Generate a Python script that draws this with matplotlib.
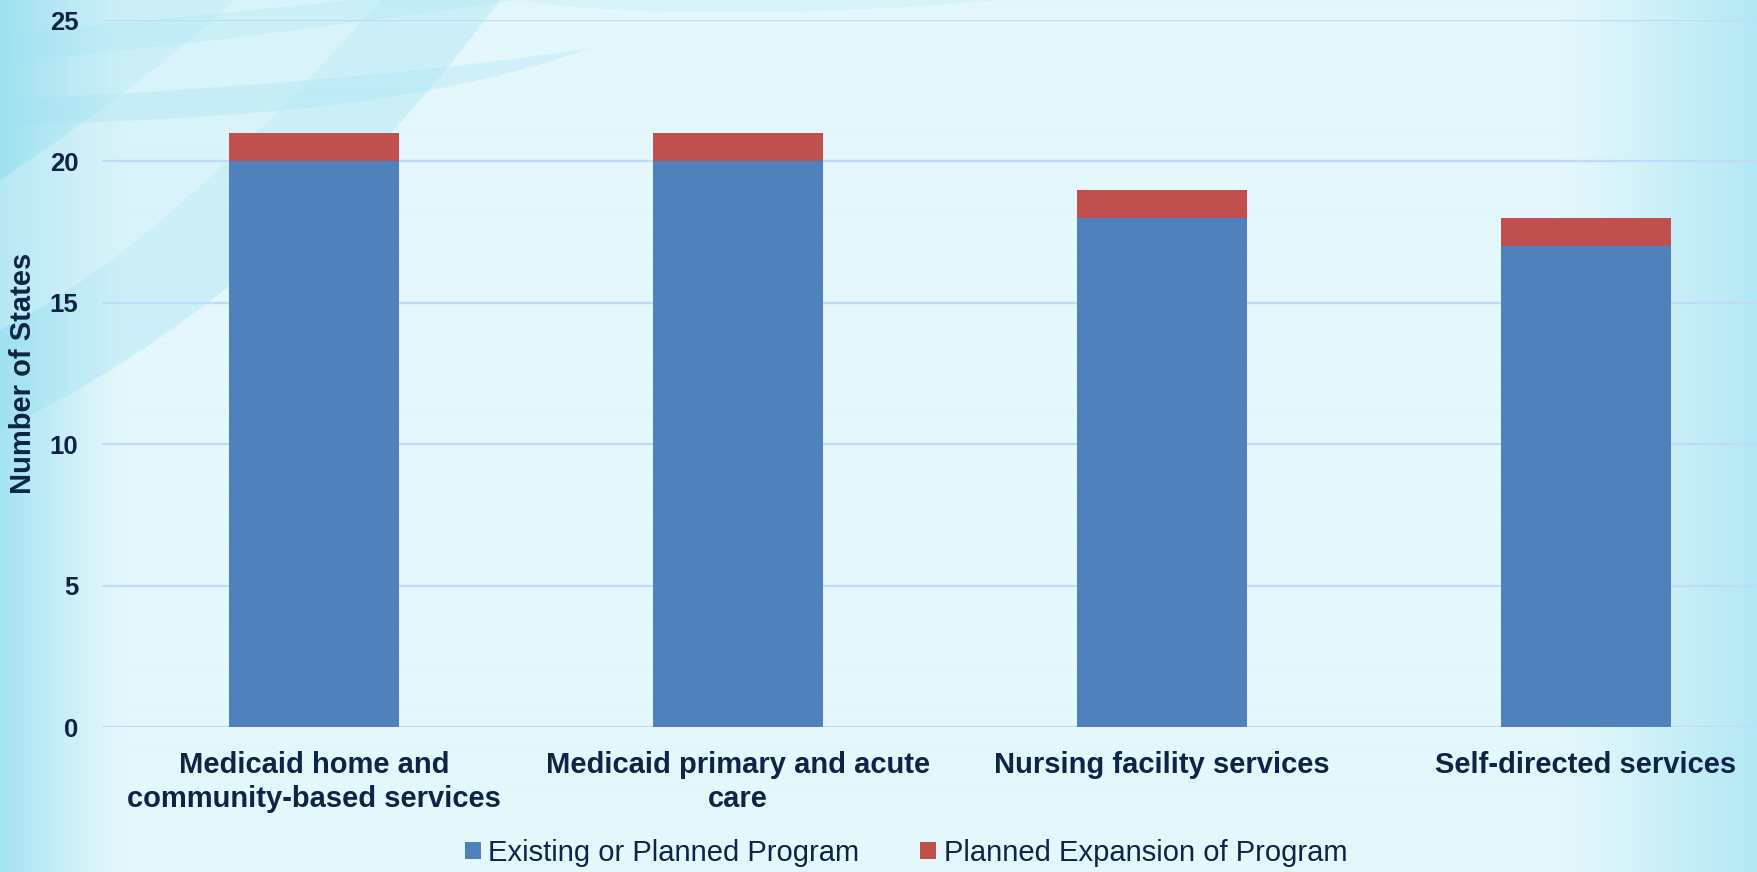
import numpy as np
import matplotlib
matplotlib.use("Agg")
import matplotlib.pyplot as plt
from matplotlib.path import Path
from matplotlib.patches import PathPatch

# ---- data ----
categories = ["Medicaid home and\ncommunity-based services",
              "Medicaid primary and acute\ncare",
              "Nursing facility services",
              "Self-directed services"]
existing = [20, 20, 18, 17]
expansion = [1, 1, 1, 1]
series_names = ["Existing or Planned Program", "Planned Expansion of Program"]
yticks = [0, 5, 10, 15, 20, 25]

W, H = 1758, 872
plt.rcParams['font.family'] = ['Liberation Sans', 'DejaVu Sans']
TXT = "#0d2446"
BLUE = "#4F81BD"
RED = "#C0504D"
GRID = "#c0dbf8"

fig = plt.figure(figsize=(W / 100, H / 100), dpi=100)

# ---- background ----
bg = fig.add_axes([0, 0, 1, 1], zorder=-10)
bg.set_xlim(0, W)
bg.set_ylim(H, 0)
bg.axis("off")
xs = np.arange(W)
base = np.array([0xe4, 0xf7, 0xfc]) / 255
left_c = np.array([0xa4, 0xe3, 0xf1]) / 255
right_c = np.array([0xb2, 0xe8, 0xf4]) / 255
tl = np.clip(1 - xs / 125.0, 0, 1) ** 1.2
tr = np.clip((xs - 1560) / 198.0, 0, 1) ** 1.1
row = base[None, :] * (1 - tl - tr)[:, None] + left_c[None, :] * tl[:, None] + right_c[None, :] * tr[:, None]
img = np.repeat(row[None, :, :], H, axis=0)
bg.imshow(img, extent=[0, W, H, 0], aspect="auto", zorder=0)

def curve_patch(verts, codes, color, alpha):
    p = PathPatch(Path(verts, codes), facecolor=color, edgecolor="none", alpha=alpha, zorder=1)
    bg.add_patch(p)

M, C4, L = Path.MOVETO, Path.CURVE4, Path.LINETO
# large diagonal sweep (darker cyan)
curve_patch([(0, 430), (150, 360), (330, 230), (500, 0), (0, 0), (0, 0), (0, 430)],
            [M, C4, C4, C4, L, L, L], "#8fdcef", 0.28)
# lighter band inside sweep
curve_patch([(0, 180), (90, 120), (170, 60), (235, 0), (380, 0), (250, 150), (120, 270), (0, 330), (0, 180)],
            [M, C4, C4, C4, L, C4, C4, C4, L], "#ffffff", 0.25)
# leaf swoosh
curve_patch([(0, 100), (200, 90), (420, 75), (590, 48), (420, 110), (200, 120), (0, 125), (0, 100)],
            [M, C4, C4, C4, C4, C4, C4, L], "#9fe2f2", 0.30)
# top band
curve_patch([(0, 35), (150, 20), (280, 8), (350, 0), (520, 0), (300, 30), (150, 50), (0, 62), (0, 35)],
            [M, C4, C4, C4, L, C4, C4, C4, L], "#9fe2f2", 0.22)
# faint top haze
curve_patch([(520, 0), (600, 15), (800, 18), (1000, 0), (520, 0)],
            [M, C4, C4, C4, L], "#b8ebf5", 0.30)

# ---- chart ----
left = 102 / W
bottom = 1 - 727 / H
top = 1 - 20 / H
width = (1798 - 102) / W
ax = fig.add_axes([left, bottom, width, top - bottom])
ax.patch.set_alpha(0)
x = np.arange(len(categories))
ax.bar(x, existing, width=0.4, color=BLUE, label=series_names[0], zorder=3)
ax.bar(x, expansion, width=0.4, bottom=existing, color=RED, label=series_names[1], zorder=3)

ax.set_xlim(-0.5, len(categories) - 0.5)
ax.set_ylim(0, 25)
ax.set_yticks(yticks)
ax.set_yticklabels([str(v) for v in yticks], fontsize=18.5, fontweight="bold", color=TXT)
ax.set_xticks(x)
ax.set_xticklabels(categories, fontsize=21, fontweight="bold", color=TXT, linespacing=1.3)
ax.tick_params(axis="both", length=0)
ax.tick_params(axis="x", pad=17)
ax.tick_params(axis="y", pad=17)
ax.grid(axis="y", color=GRID, linewidth=1.7, zorder=0)
ax.set_axisbelow(True)
for s in ax.spines.values():
    s.set_visible(False)

fig.text(23 / W, 1 - 373 / H, "Number of States", rotation=90, fontsize=21,
         fontweight="bold", color=TXT, ha="center", va="center")

leg = fig.legend(loc="center", bbox_to_anchor=(906 / W, 1 - 853 / H), ncol=2,
                 frameon=False, fontsize=21, handlelength=0.55, handleheight=0.55,
                 handletextpad=0.25, columnspacing=2.1, borderpad=0)
for t in leg.get_texts():
    t.set_color(TXT)

fig.savefig("out.png", dpi=100)
